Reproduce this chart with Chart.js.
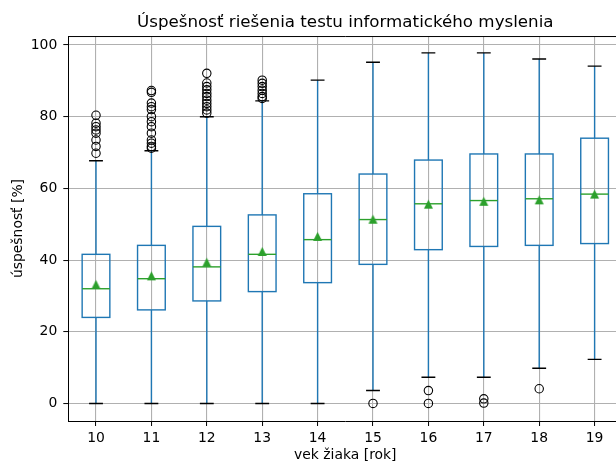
<!DOCTYPE html>
<html>
<head>
<meta charset="utf-8">
<script src="https://cdn.jsdelivr.net/npm/chart.js@4.4.0/dist/chart.umd.min.js"></script>
<style>
  html, body { margin: 0; padding: 0; background: #fff; overflow: hidden; }
  #wrap { width: 616px; height: 464px; overflow: hidden; }
</style>
</head>
<body>
<div id="wrap"><canvas id="chart" width="691" height="464"></canvas></div>
<script>
// vek ziaka (kategorie)
const ages = [10, 11, 12, 13, 14, 15, 16, 17, 18, 19];

// statistiky boxov [%]
const q1 = [24.0, 26.1, 28.6, 31.2, 33.7, 38.8, 42.9, 43.8, 44.1, 44.6];
const q3 = [41.6, 44.1, 49.4, 52.6, 58.5, 64.0, 67.9, 69.6, 69.6, 74.0];
const medians = [32.0, 34.8, 38.1, 41.6, 45.7, 51.3, 55.7, 56.6, 57.1, 58.4];
const means = [33.2, 35.6, 39.4, 42.4, 46.6, 51.4, 55.6, 56.4, 56.8, 58.4];
const whiskerLow = [0, 0, 0, 0, 0, 3.6, 7.3, 7.3, 9.8, 12.3];
const whiskerHigh = [67.7, 70.5, 80.0, 84.4, 90.2, 95.2, 97.8, 97.8, 96.1, 94.1];

// odlahle hodnoty
const fliers = [
  [80.4, 78.2, 77.2, 76.3, 75.4, 73.5, 71.7, 69.8],
  [87.3, 86.8, 83.8, 82.8, 82.0, 80.0, 78.6, 77.2, 75.4, 73.5, 72.6, 71.7, 71.2],
  [92.1, 89.4, 88.4, 87.5, 86.5, 85.6, 84.6, 83.7, 82.8, 81.9, 81.0],
  [90.2, 89.3, 88.4, 87.4, 86.5, 85.6, 85.1],
  [],
  [0],
  [3.6, 0],
  [1.3, 0.1],
  [4.1],
  []
];

const yTicks = [0, 20, 40, 60, 80, 100];

const blue = '#1f77b4';
const green = '#2ca02c';
const font = "'DejaVu Sans', sans-serif";

// trojuholnik ako v matplotlibe (stred = stred ohranicenia)
const tri = document.createElement('canvas');
tri.width = 11; tri.height = 11;
const tctx = tri.getContext('2d');
tctx.fillStyle = green;
tctx.beginPath();
tctx.moveTo(5.5, 1);
tctx.lineTo(1, 10);
tctx.lineTo(10, 10);
tctx.closePath();
tctx.fill();

const flierPoints = [];
ages.forEach((a, i) => fliers[i].forEach(v => flierPoints.push({ x: a, y: v })));

const boxPlugin = {
  id: 'boxes',
  beforeDatasetsDraw(chart) {
    const { ctx, scales: { x, y } } = chart;
    ctx.save();
    ctx.lineWidth = 1.4;
    ages.forEach((a, i) => {
      const cx = x.getPixelForValue(a);
      const bl = x.getPixelForValue(a - 0.25), br = x.getPixelForValue(a + 0.25);
      const cl = x.getPixelForValue(a - 0.125), cr = x.getPixelForValue(a + 0.125);
      const yq1 = y.getPixelForValue(q1[i]), yq3 = y.getPixelForValue(q3[i]);
      const ylo = y.getPixelForValue(whiskerLow[i]), yhi = y.getPixelForValue(whiskerHigh[i]);
      const ymed = y.getPixelForValue(medians[i]);
      // box + whiskers
      ctx.strokeStyle = blue;
      ctx.strokeRect(bl, yq3, br - bl, yq1 - yq3);
      ctx.beginPath();
      ctx.moveTo(cx, yq1); ctx.lineTo(cx, ylo);
      ctx.moveTo(cx, yq3); ctx.lineTo(cx, yhi);
      ctx.stroke();
      // caps
      ctx.strokeStyle = '#000';
      ctx.beginPath();
      ctx.moveTo(cl, ylo); ctx.lineTo(cr, ylo);
      ctx.moveTo(cl, yhi); ctx.lineTo(cr, yhi);
      ctx.stroke();
      // median
      ctx.strokeStyle = green;
      ctx.beginPath();
      ctx.moveTo(bl, ymed); ctx.lineTo(br, ymed);
      ctx.stroke();
    });
    ctx.restore();
  },
  afterDraw(chart) {
    const { ctx, chartArea: a } = chart;
    ctx.save();
    ctx.strokeStyle = '#000';
    ctx.lineWidth = 1;
    ctx.beginPath();
    ctx.moveTo(a.left, a.top + 0.5); ctx.lineTo(a.right, a.top + 0.5);
    ctx.moveTo(a.right - 0.5, a.top); ctx.lineTo(a.right - 0.5, a.bottom);
    ctx.stroke();
    ctx.restore();
  }
};

new Chart(document.getElementById('chart'), {
  type: 'scatter',
  data: {
    datasets: [
      {
        label: 'priemer',
        data: ages.map((a, i) => ({ x: a, y: means[i] })),
        pointStyle: tri,
        pointRadius: 5
      },
      {
        label: 'odlahle',
        data: flierPoints,
        pointStyle: 'circle',
        pointRadius: 4.2,
        borderColor: '#000',
        borderWidth: 1.1,
        backgroundColor: 'rgba(0,0,0,0)'
      }
    ]
  },
  options: {
    responsive: false,
    animation: false,
    events: [],
    layout: { padding: { left: 0, right: 68.7, top: 0, bottom: 0 } },
    plugins: {
      legend: { display: false },
      tooltip: { enabled: false },
      title: {
        display: true,
        fullSize: false,
        text: 'Úspešnosť riešenia testu informatického myslenia',
        color: '#000',
        font: { family: font, size: 16.7, weight: 'normal', lineHeight: 1.2 },
        padding: { top: 12.5, bottom: 3.5 }
      }
    },
    scales: {
      x: {
        type: 'linear',
        min: 9.5,
        max: 19.5,
        afterFit(s) { s.height = 43; },
        afterBuildTicks(s) { s.ticks = ages.map(v => ({ value: v })); },
        ticks: {
          includeBounds: false,
          color: '#000',
          font: { family: font, size: 13.9 },
          padding: 4,
          maxRotation: 0,
          callback: v => String(v)
        },
        grid: { color: '#b0b0b0', lineWidth: 1.1, tickColor: '#000', tickLength: 5, tickWidth: 1 },
        border: { display: true, color: '#000', width: 1 },
        title: {
          display: true,
          text: 'vek žiaka [rok]',
          color: '#000',
          font: { family: font, size: 13.9 },
          padding: { top: 0, bottom: 0 }
        }
      },
      y: {
        type: 'linear',
        min: -4.9,
        max: 102.5,
        afterFit(s) { s.width = 68.3; },
        afterBuildTicks(s) { s.ticks = yTicks.map(v => ({ value: v })); },
        ticks: {
          includeBounds: false,
          color: '#000',
          font: { family: font, size: 13.9 },
          padding: 6
        },
        grid: { color: '#b0b0b0', lineWidth: 1.1, tickColor: '#000', tickLength: 5, tickWidth: 1 },
        border: { display: true, color: '#000', width: 1 },
        title: {
          display: true,
          text: 'úspešnosť [%]',
          color: '#000',
          font: { family: font, size: 13.9 },
          padding: { top: 10, bottom: 0 }
        }
      }
    }
  },
  plugins: [boxPlugin]
});
</script>
</body>
</html>
